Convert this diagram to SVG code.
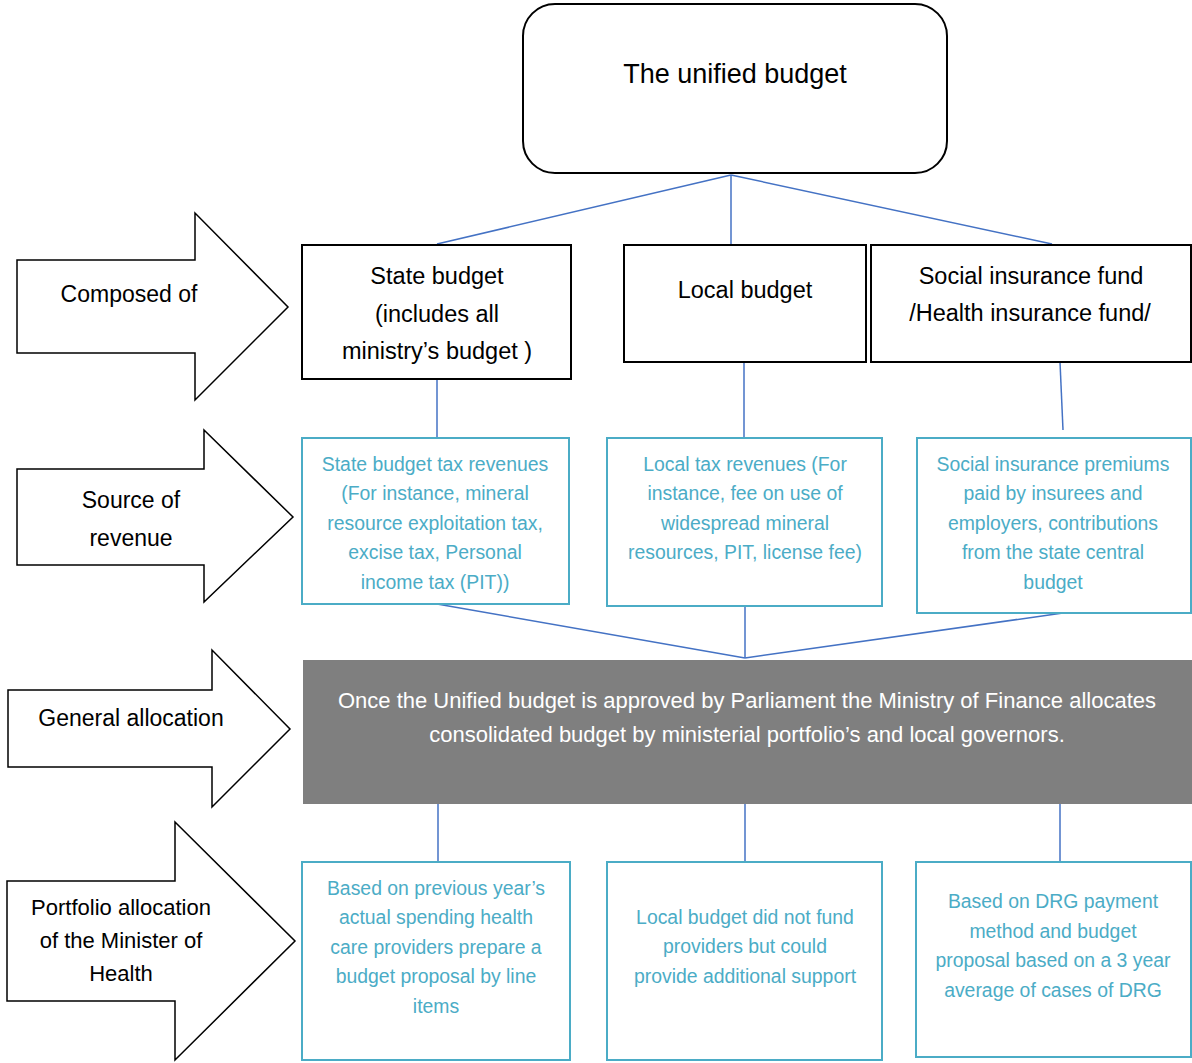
<svg xmlns="http://www.w3.org/2000/svg" width="1192" height="1063" viewBox="0 0 1192 1063">
<style>
.blk{fill:#fff;stroke:#000;stroke-width:2}
.arr{fill:#fff;stroke:#000;stroke-width:1.5;stroke-linejoin:miter}
.cyan{fill:#fff;stroke:#4BACC6;stroke-width:2}
.t{font-family:"Liberation Sans",Arial,sans-serif;fill:#000;text-anchor:middle}
.tb{font-size:23.5px}
.tl{font-size:23px}
.tc{font-family:"Liberation Sans",Arial,sans-serif;fill:#4BACC6;text-anchor:middle;font-size:19.4px}
.tw{font-family:"Liberation Sans",Arial,sans-serif;fill:#fff;text-anchor:middle;font-size:22px}
.con line{stroke:#4472C4;stroke-width:1.5}
</style>
<rect width="1192" height="1063" fill="#fff"/>

<g id="connectors" class="con">
<line x1="731" y1="175" x2="437" y2="244"/>
<line x1="731" y1="175" x2="731" y2="245"/>
<line x1="731" y1="175" x2="1052" y2="244"/>
<line x1="437" y1="379" x2="437" y2="437"/>
<line x1="744" y1="362" x2="744" y2="437"/>
<line x1="1060" y1="362" x2="1063" y2="430"/>
<line x1="437" y1="604" x2="745" y2="658"/>
<line x1="745" y1="606" x2="745" y2="658"/>
<line x1="1063" y1="613" x2="745" y2="658"/>
<line x1="438" y1="804" x2="438" y2="862"/>
<line x1="745" y1="804" x2="745" y2="862"/>
<line x1="1060" y1="804" x2="1060" y2="862"/>
</g>

<g id="unified">
<rect class="blk" x="523" y="4" width="424" height="169" rx="32"/>
<text class="t" x="735" y="83" font-size="27">The unified budget</text>
</g>

<g id="arrow-composed">
<polygon class="arr" points="17,260 195,260 195,213 288,307 195,400 195,353 17,353"/>
<text class="t tl" x="129" y="302">Composed of</text>
</g>
<g id="arrow-source">
<polygon class="arr" points="17,469 204,469 204,430 293,517 204,602 204,565 17,565"/>
<text class="t tl" x="131" y="508">Source of</text>
<text class="t tl" x="131" y="546">revenue</text>
</g>
<g id="arrow-general">
<polygon class="arr" points="8,690 212,690 212,650 290,729 212,807 212,767 8,767"/>
<text class="t tl" x="131" y="726">General allocation</text>
</g>
<g id="arrow-portfolio">
<polygon class="arr" points="7,881 175,881 175,822 295,941 175,1060 175,1001 7,1001"/>
<text class="t" x="121" y="915" font-size="22">Portfolio allocation</text>
<text class="t" x="121" y="948" font-size="22">of the Minister of</text>
<text class="t" x="121" y="981" font-size="22">Health</text>
</g>

<g id="state-budget">
<rect class="blk" x="302" y="245" width="269" height="134"/>
<text class="t tb" x="437" y="284">State budget</text>
<text class="t tb" x="437" y="322">(includes all</text>
<text class="t tb" x="437" y="359">ministry’s budget )</text>
</g>
<g id="local-budget">
<rect class="blk" x="624" y="245" width="242" height="117"/>
<text class="t tb" x="745" y="298">Local budget</text>
</g>
<g id="social-fund">
<rect class="blk" x="871" y="245" width="320" height="117"/>
<text class="t tb" x="1031" y="284">Social insurance fund</text>
<text class="t tb" x="1030" y="321">/Health insurance fund/</text>
</g>

<g id="state-revenue">
<rect class="cyan" x="302" y="438" width="267" height="166"/>
<text class="tc" x="435" y="471">State budget tax revenues</text>
<text class="tc" x="435" y="500">(For instance, mineral</text>
<text class="tc" x="435" y="530">resource exploitation tax,</text>
<text class="tc" x="435" y="559">excise tax, Personal</text>
<text class="tc" x="435" y="589">income tax (PIT))</text>
</g>
<g id="local-revenue">
<rect class="cyan" x="607" y="438" width="275" height="168"/>
<text class="tc" x="745" y="471">Local tax revenues (For</text>
<text class="tc" x="745" y="500">instance, fee on use of</text>
<text class="tc" x="745" y="530">widespread mineral</text>
<text class="tc" x="745" y="559">resources, PIT, license fee)</text>
</g>
<g id="social-revenue">
<rect class="cyan" x="917" y="438" width="274" height="175"/>
<text class="tc" x="1053" y="471">Social insurance premiums</text>
<text class="tc" x="1053" y="500">paid by insurees and</text>
<text class="tc" x="1053" y="530">employers, contributions</text>
<text class="tc" x="1053" y="559">from the state central</text>
<text class="tc" x="1053" y="589">budget</text>
</g>

<g id="general-allocation">
<rect x="303" y="660" width="889" height="144" fill="#7F7F7F"/>
<text class="tw" x="747" y="708">Once the Unified budget is approved by Parliament the Ministry of Finance allocates</text>
<text class="tw" x="747" y="742">consolidated budget by ministerial portfolio’s and local governors.</text>
</g>

<g id="ministry-allocation">
<rect class="cyan" x="302" y="862" width="268" height="198"/>
<text class="tc" x="436" y="895">Based on previous year’s</text>
<text class="tc" x="436" y="924">actual spending health</text>
<text class="tc" x="436" y="954">care providers prepare a</text>
<text class="tc" x="436" y="983">budget proposal by line</text>
<text class="tc" x="436" y="1013">items</text>
</g>
<g id="local-allocation">
<rect class="cyan" x="607" y="862" width="275" height="198"/>
<text class="tc" x="745" y="924">Local budget did not fund</text>
<text class="tc" x="745" y="953">providers but could</text>
<text class="tc" x="745" y="983">provide additional support</text>
</g>
<g id="drg-allocation">
<rect class="cyan" x="916" y="862" width="275" height="195"/>
<text class="tc" x="1053" y="908">Based on DRG payment</text>
<text class="tc" x="1053" y="938">method and budget</text>
<text class="tc" x="1053" y="967">proposal based on a 3 year</text>
<text class="tc" x="1053" y="997">average of cases of DRG</text>
</g>
</svg>
